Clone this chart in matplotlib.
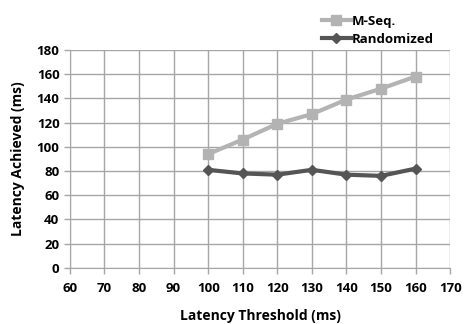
import matplotlib
matplotlib.use("Agg")
import matplotlib.pyplot as plt

thresholds = [100, 110, 120, 130, 140, 150, 160]
mseq = [94, 106, 119, 127, 139, 148, 158]
randomized = [81, 78, 77, 81, 77, 76, 82]

plt.rcParams['font.family'] = ['Open Sans', 'DejaVu Sans']
plt.rcParams['font.weight'] = 'bold'

fig = plt.figure(figsize=(4.66, 3.24), dpi=100)
ax = fig.add_axes([0.150, 0.173, 0.816, 0.673])

l1, = ax.plot(thresholds, mseq, color='#b3b3b3', lw=3, marker='s', ms=7, label='M-Seq.', zorder=3)
l2, = ax.plot(thresholds, randomized, color='#555555', lw=3, marker='D', ms=5, label='Randomized', zorder=3)

ax.set_xlim(60, 170)
ax.set_ylim(0, 180)
ax.set_xticks(range(60, 171, 10))
ax.set_yticks(range(0, 181, 20))
ax.grid(True, color='#a6a6a6', lw=1)
ax.set_axisbelow(True)
for s in ['top', 'right']:
    ax.spines[s].set_visible(False)
for s in ['left', 'bottom']:
    ax.spines[s].set_color('#a6a6a6')
ax.tick_params(colors='#a6a6a6', labelcolor='black', labelsize=9.5, length=4, width=1)
ax.tick_params(axis='x', pad=6)
for lab in ax.get_xticklabels() + ax.get_yticklabels():
    lab.set_fontweight('bold')
ax.set_xlabel('Latency Threshold (ms)', fontsize=10, fontweight='bold', labelpad=10)
ax.set_ylabel('Latency Achieved (ms)', fontsize=10, fontweight='bold', labelpad=8)

fig.legend(handles=[l1, l2], loc='upper left', bbox_to_anchor=(0.665, 0.99), frameon=False,
           handlelength=2.2, handletextpad=0.1, labelspacing=0.35,
           prop={'weight': 'bold', 'size': 9.5})

fig.savefig('out.png', dpi=100)
